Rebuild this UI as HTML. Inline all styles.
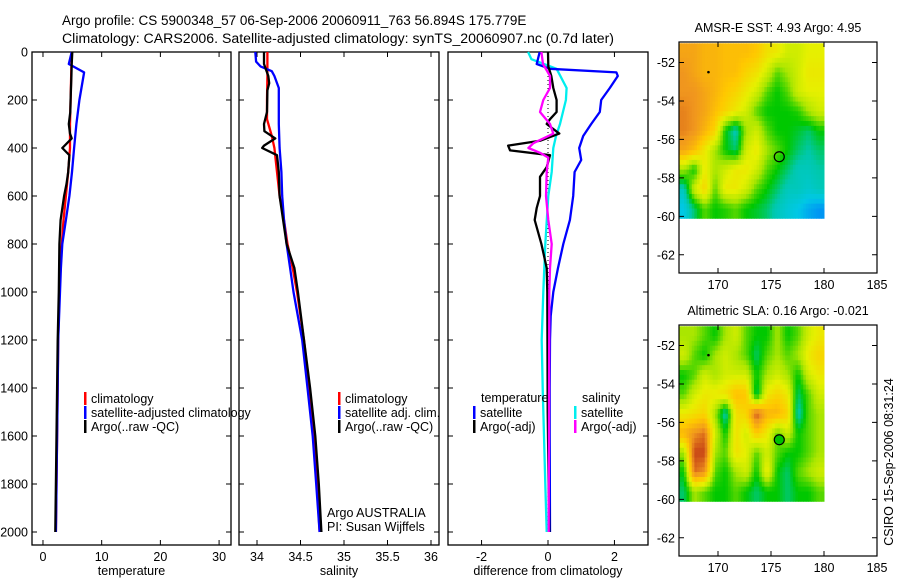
<!DOCTYPE html>
<html><head><meta charset="utf-8">
<style>
body{margin:0;background:#fff;}
svg{display:block;font-family:"Liberation Sans",sans-serif;}
text{fill:#000;}
</style></head>
<body>
<svg id="c" width="900" height="580" viewBox="0 0 900 580">
<text x="62" y="25" font-size="13.5">Argo profile: CS 5900348_57 06-Sep-2006 20060911_763 56.894S 175.779E</text>
<text x="62" y="43" font-size="13.5" textLength="552" lengthAdjust="spacingAndGlyphs">Climatology: CARS2006. Satellite-adjusted climatology: synTS_20060907.nc (0.7d later)</text>
<g id="g"></g>
</svg>
<script>
// ---- data ----
const tClimDepth=[0,200,300,400,500,600,700,800,1000,1200,1500,2000];
const tClimVal=[4.9,4.7,4.6,4.6,4.3,3.9,3.5,3.2,2.8,2.6,2.45,2.2];
const tArgoDepth=[0,50,100,200,250,300,340,360,400,430,500,550,600,700,800,1000,1200,1400,1600,1800,2000];
const tArgoVal=[5.0,4.9,4.85,4.7,4.65,4.4,4.6,4.9,3.3,4.5,4.3,4.0,3.6,3.0,2.8,2.7,2.5,2.4,2.3,2.2,2.1];
const tSatDepth=[0,50,85,100,200,300,400,500,600,700,800,900,1000,1200,1400,1600,1800,2000];
const tSatVal=[4.9,4.4,7.0,6.9,6.2,5.7,5.3,4.95,4.5,3.9,3.3,3.05,2.9,2.6,2.5,2.4,2.3,2.2];

const sClimDepth=[0,100,200,280,350,400,500,600,700,800,900,1000,1200,1400,1600,1800,2000];
const sClimVal=[34.12,34.12,34.115,34.115,34.17,34.2,34.23,34.26,34.31,34.35,34.41,34.46,34.54,34.6,34.65,34.69,34.72];
const sArgoDepth=[0,50,80,100,130,160,250,300,330,360,390,400,430,500,600,700,800,900,1000,1200,1400,1600,1800,2000];
const sArgoVal=[34.08,34.08,34.11,34.13,34.14,34.12,34.115,34.08,34.085,34.21,34.08,34.06,34.23,34.25,34.26,34.3,34.34,34.43,34.47,34.54,34.61,34.67,34.71,34.74];
const sSatDepth=[0,40,60,80,100,150,300,400,500,600,700,800,900,1000,1200,1400,1600,1800,2000];
const sSatVal=[33.98,33.99,34.04,34.17,34.2,34.25,34.25,34.26,34.28,34.29,34.31,34.34,34.38,34.42,34.52,34.58,34.64,34.68,34.72];

const dTSatDepth=[0,50,70,85,100,150,200,250,300,350,400,450,500,600,700,800,900,1000,1100,1200,1400,1600,2000];
const dTSatVal=[-0.25,-0.34,0.06,2.06,2.1,1.86,1.6,1.56,1.3,1.06,0.94,1.0,0.8,0.76,0.66,0.46,0.3,0.16,0.08,0.06,0.05,0.05,0.06];
const dTArgoDepth=[0,60,100,150,200,250,280,300,340,370,390,410,430,480,520,600,650,700,800,900,1000,1500,2000];
const dTArgoVal=[0,0.01,0.1,0.16,0.26,0.26,0.06,-0.04,0.34,-0.24,-1.2,-1.14,0.06,-0.04,-0.24,-0.24,-0.34,-0.4,-0.2,-0.04,-0.02,-0.01,0.04];
const dSSatDepth=[0,30,70,150,200,300,350,400,500,600,800,1000,1200,1400,1600,1800,2000];
const dSSatVal=[-0.6,-0.5,0.26,0.56,0.54,0.36,0.24,0.16,0.11,0.01,-0.08,-0.14,-0.19,-0.16,-0.12,-0.08,-0.04];
const dSArgoDepth=[0,50,100,150,200,250,300,340,380,400,420,440,500,600,700,800,900,1000,1500,2000];
const dSArgoVal=[-0.2,-0.15,0.06,0.06,-0.14,-0.24,0.06,0.16,-0.44,-0.59,-0.24,0.01,-0.04,-0.06,0.01,0.11,0.06,0.04,0.03,0.02];

const depthTicks=[0,200,400,600,800,1000,1200,1400,1600,1800,2000];
const tTicks=[0,10,20,30];
const sTicks=[34,34.5,35,35.5,36];
const sTickLabels=["34","34.5","35","35.5","36"];
const dTicks=[-2,0,2];
const lonTicks=[170,175,180,185];
const latTicks=[-52,-54,-56,-58,-60,-62];

const sstGrid=[
[.75,.75,.72,.72,.7,.7,.7,.68,.62,.6,.55,.55,.58,.58],
[.78,.75,.72,.72,.7,.7,.65,.62,.55,.45,.5,.55,.6,.6],
[.78,.78,.75,.72,.68,.65,.6,.55,.45,.4,.45,.55,.58,.58],
[.8,.78,.75,.7,.65,.6,.55,.45,.4,.4,.4,.42,.5,.55],
[.8,.78,.72,.65,.4,.3,.5,.55,.45,.4,.4,.38,.35,.4],
[.75,.7,.6,.5,.4,.35,.55,.6,.5,.45,.4,.35,.32,.35],
[.5,.4,.6,.5,.55,.6,.6,.55,.45,.4,.35,.3,.3,.32],
[.3,.55,.65,.45,.6,.6,.55,.45,.4,.35,.3,.3,.28,.3],
[.25,.35,.45,.4,.42,.45,.4,.38,.35,.3,.27,.25,.22,.2]];
const slaGrid=[
[.5,.5,.45,.4,.5,.55,.45,.4,.4,.5,.4,.45,.55,.6],
[.55,.45,.4,.5,.55,.5,.45,.35,.45,.5,.45,.5,.6,.65],
[.4,.45,.55,.5,.55,.55,.55,.4,.5,.55,.5,.4,.55,.6],
[.45,.55,.6,.6,.62,.7,.68,.35,.6,.65,.6,.35,.45,.55],
[.6,.62,.65,.5,.3,.62,.65,.85,.72,.72,.65,.3,.45,.5],
[.72,.78,.82,.55,.4,.62,.55,.68,.6,.45,.55,.4,.45,.5],
[.5,.86,.86,.5,.45,.62,.58,.45,.55,.45,.4,.4,.45,.5],
[.4,.82,.78,.45,.4,.5,.55,.4,.6,.4,.35,.45,.5,.55],
[.35,.5,.45,.4,.4,.45,.4,.35,.4,.4,.35,.4,.4,.45]];
const gridLon0=166.3, gridLat0=-51.0, gridLatEnd=-60.1, gridLonEnd=180;

// ---- helpers ----
const NS="http://www.w3.org/2000/svg";
const G=document.getElementById('g');
function mk(tag,attrs,parent){const e=document.createElementNS(NS,tag);for(const k in attrs)e.setAttribute(k,attrs[k]);(parent||G).appendChild(e);return e;}
const Y=d=>52+d*0.24;
const PY0=52,PY1=545;

function panel(name,x0,x1,xmin,xmax,ticks,labels,xlabel,showDepth){
  const X=v=>x0+(v-xmin)/(xmax-xmin)*(x1-x0);
  const r=mk('rect',{x:x0,y:PY0,width:x1-x0,height:PY1-PY0,fill:'none',stroke:'#000','stroke-width':1.3});
  
  
  depthTicks.forEach(d=>{
    const l=mk('path',{d:`M${x0} ${Y(d)}h5M${x1} ${Y(d)}h-5`,stroke:'#000','stroke-width':1});
    
    
    if(showDepth){const t=mk('text',{x:x0-4,y:Y(d)+4.5,'font-size':12.5,'text-anchor':'end'});t.textContent=d;
      
      }
  });
  ticks.forEach((v,i)=>{
    const l=mk('path',{d:`M${X(v)} ${PY1}v-5M${X(v)} ${PY0}v5`,stroke:'#000','stroke-width':1});
    
    
    const t=mk('text',{x:X(v),y:PY1+16,'font-size':12.5,'text-anchor':'middle'});t.textContent=labels[i];
    
    
  });
  const t=mk('text',{x:(x0+x1)/2,y:575,'font-size':12.5,'text-anchor':'middle'});t.textContent=xlabel;
  
  
  return X;
}
function line(X,depths,vals,color,name,w){
  const d=depths.map((z,i)=>(i?'L':'M')+X(vals[i]).toFixed(1)+' '+Y(z).toFixed(1)).join('');
  const p=mk('path',{d:d,fill:'none',stroke:color,'stroke-width':w||2.3,'stroke-linejoin':'round'});
  
  
}
function legend(x,y,color,label,name){
  const r=mk('rect',{x:x,y:y-10,width:2.5,height:13,fill:color});
  
  
  const t=mk('text',{x:x+7,y:y+1,'font-size':12.5});t.textContent=label;
  
  
}
function txt(x,y,s,name,extra){const t=mk('text',Object.assign({x:x,y:y,'font-size':12.5},extra||{}));t.textContent=s;
  
  return t;}

// ---- temperature panel ----
const XT=panel('temperature-panel',32,231,-1.87,32.03,tTicks,tTicks.map(String),'temperature',true);
line(XT,tClimDepth,tClimVal,'#f00','temp-climatology-line');
line(XT,tSatDepth,tSatVal,'#00f','temp-satellite-line');
line(XT,tArgoDepth,tArgoVal,'#000','temp-argo-line');
legend(84,402,'#f00','climatology','legend-climatology');
legend(84,416,'#00f','satellite-adjusted climatology','legend-satellite-adjusted');
legend(84,430,'#000','Argo(..raw -QC)','legend-argo-raw');

// ---- salinity panel ----
const XS=panel('salinity-panel',239,439,33.793,36.092,sTicks,sTickLabels,'salinity',false);
line(XS,sClimDepth,sClimVal,'#f00','sal-climatology-line');
line(XS,sSatDepth,sSatVal,'#00f','sal-satellite-line');
line(XS,sArgoDepth,sArgoVal,'#000','sal-argo-line');
legend(338,402,'#f00','climatology','legend-sal-climatology');
legend(338,416,'#00f','satellite adj. clim.','legend-sal-satellite');
legend(338,430,'#000','Argo(..raw -QC)','legend-sal-argo');
txt(327,517,'Argo AUSTRALIA','argo-australia-label');
txt(327,531,'PI: Susan Wijffels','pi-label');

// ---- difference panel ----
const XD=panel('difference-panel',448,648,-3.01,3.01,dTicks,dTicks.map(String),'difference from climatology',false);
const z=mk('path',{d:`M${XD(0)} ${Y(0)}V${Y(2000)}`,stroke:'#000','stroke-width':1,'stroke-dasharray':'1 3'});


line(XD,dSSatDepth,dSSatVal,'#0ee','diff-sal-satellite-line');
line(XD,dTSatDepth,dTSatVal,'#00f','diff-temp-satellite-line');
line(XD,dTArgoDepth,dTArgoVal,'#000','diff-temp-argo-line');
line(XD,dSArgoDepth,dSArgoVal,'#f0f','diff-sal-argo-line');
txt(481,402,'temperature','legend-temperature-heading');
legend(473,416,'#00f','satellite','legend-temp-satellite');
legend(473,430,'#000','Argo(-adj)','legend-temp-argo');
txt(582,402,'salinity','legend-salinity-heading');
legend(574,416,'#0ee','satellite','legend-sal-sat');
legend(574,430,'#f0f','Argo(-adj)','legend-sal-argo-adj');

// ---- maps ----
const palStops=[[0.15,[0,100,255]],[0.25,[0,200,230]],[0.32,[0,200,170]],[0.4,[0,200,0]],[0.5,[170,230,0]],[0.58,[230,240,0]],[0.68,[255,200,0]],[0.78,[240,150,30]],[0.88,[190,50,20]]];
function pal(v){
  if(v<=palStops[0][0])return `rgb(${palStops[0][1]})`;
  for(let k=1;k<palStops.length;k++){
    if(v<=palStops[k][0]){const a=palStops[k-1],b=palStops[k],t=(v-a[0])/(b[0]-a[0]);
      return 'rgb('+a[1].map((c,i)=>Math.round(c+(b[1][i]-c)*t)).join(',')+')';}
  }
  return `rgb(${palStops[palStops.length-1][1]})`;
}
function sample(grid,fy,fx){
  const rows=grid.length,cols=grid[0].length;
  fy=Math.max(0,Math.min(rows-1,fy));fx=Math.max(0,Math.min(cols-1,fx));
  const i=Math.floor(fy),j=Math.floor(fx),i2=Math.min(rows-1,i+1),j2=Math.min(cols-1,j+1),a=fy-i,b=fx-j;
  return grid[i][j]*(1-a)*(1-b)+grid[i][j2]*(1-a)*b+grid[i2][j]*a*(1-b)+grid[i2][j2]*a*b;
}
function map(name,top,grid,title,markerFill){
  const x0=679,x1=877,h=231;
  const LX=lon=>718+(lon-170)*10.6;
  const LY=lat=>top+20.5+(-52-lat)*19.23;
  const rows=grid.length,cols=grid[0].length,S=4;
  const cw=(LX(gridLonEnd)-LX(gridLon0))/(cols*S), ch=(LY(gridLatEnd)-LY(gridLat0))/(rows*S);
  for(let i=0;i<rows*S;i++)for(let j=0;j<cols*S;j++){
    const v=sample(grid,(i+0.5)/S-0.5,(j+0.5)/S-0.5);
    const r=mk('rect',{x:(LX(gridLon0)+j*cw).toFixed(2),y:(LY(gridLat0)+i*ch).toFixed(2),width:(cw+0.5).toFixed(2),height:(ch+0.5).toFixed(2),fill:pal(v)});
    
    
  }
  const f=mk('rect',{x:x0,y:top,width:x1-x0,height:h,fill:'none',stroke:'#000','stroke-width':1.2});
  
  
  lonTicks.forEach(l=>{
    const p=mk('path',{d:`M${LX(l)} ${top+h}v-5M${LX(l)} ${top}v5`,stroke:'#000'});
    
    
    txt(LX(l),top+h+16,String(l),'lon-tick-label',{'text-anchor':'middle'});
  });
  latTicks.forEach(l=>{
    const p=mk('path',{d:`M${x0} ${LY(l)}h5M${x1} ${LY(l)}h-5`,stroke:'#000'});
    
    
    txt(x0-4,LY(l)+4.5,String(l),'lat-tick-label',{'text-anchor':'end'});
  });
  txt(778,top-10,title,name+'-title',{'text-anchor':'middle'});
  const d=mk('circle',{cx:LX(169.1),cy:LY(-52.5),r:1.3,fill:'#000'});
  
  
  const c=mk('circle',{cx:LX(175.78),cy:LY(-56.9),r:5,fill:markerFill,stroke:'#000','stroke-width':1.2});
  
  
}
map('sst-map',42,sstGrid,'AMSR-E SST: 4.93 Argo: 4.95','none');
map('sla-map',325,slaGrid,'Altimetric SLA: 0.16 Argo: -0.021','#00c000');
txt(0,0,'CSIRO 15-Sep-2006 08:31:24','timestamp',{transform:'translate(893 462) rotate(-90)','text-anchor':'middle'});
</script>
</body></html>
